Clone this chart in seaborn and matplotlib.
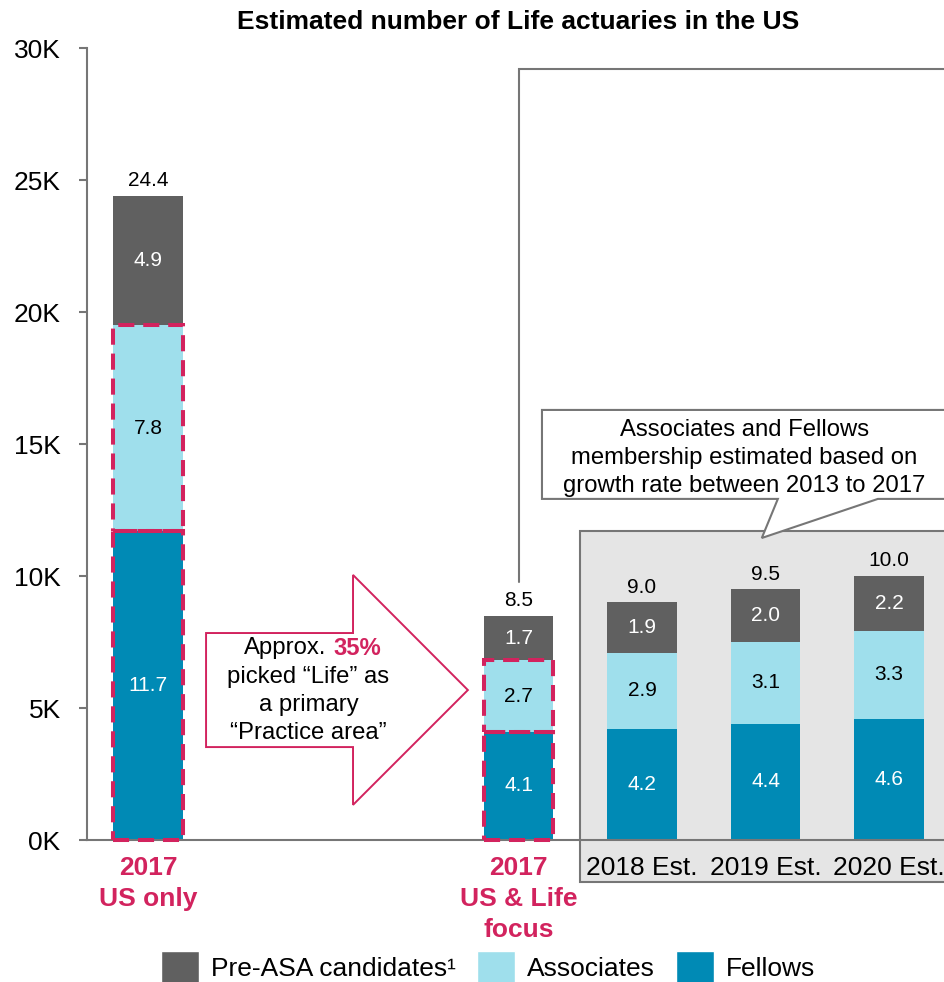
import matplotlib
matplotlib.use("Agg")
import matplotlib.pyplot as plt
import seaborn as sns
import pandas as pd
from matplotlib.patches import Rectangle, Polygon, Patch

# ---------------- data ----------------
categories = ["2017\nUS only", "2017\nUS & Life\nfocus", "2018 Est.", "2019 Est.", "2020 Est."]
fellows = [11.7, 4.1, 4.2, 4.4, 4.6]
associates = [7.8, 2.7, 2.9, 3.1, 3.3]
pre_asa = [4.9, 1.7, 1.9, 2.0, 2.2]
totals = [24.4, 8.5, 9.0, 9.5, 10.0]
highlighted = ["2017\nUS only", "2017\nUS & Life\nfocus"]
y_ticks = [0, 5, 10, 15, 20, 25, 30]
y_tick_labels = ["0K", "5K", "10K", "15K", "20K", "25K", "30K"]
series_names = ["Pre-ASA candidates\u00b9", "Associates", "Fellows"]
title = "Estimated number of Life actuaries in the US"
arrow_lines = ["picked \u201cLife\u201d as", "a primary", "\u201cPractice area\u201d"]
callout_text = "Associates and Fellows\nmembership estimated based on\ngrowth rate between 2013 to 2017"

# ---------------- style ----------------
sns.set_style("white")
plt.rcParams["font.family"] = ["Liberation Sans", "DejaVu Sans"]
for k in ["text.color", "axes.labelcolor", "xtick.color", "ytick.color"]:
    plt.rcParams[k] = "black"

C_PRE = "#606060"
C_ASSOC = "#9FDFEC"
C_FELLOW = "#008AB5"
C_RED = "#D2235E"
C_GRAY = "#767676"

df = pd.DataFrame({
    "cat": categories,
    "fellows": fellows,
    "mid": [f + a for f, a in zip(fellows, associates)],
    "total": totals,
})

order = [categories[0], "_gap1", "_gap2"] + categories[1:]
pos = {c: order.index(c) for c in categories}

fig = plt.figure(figsize=(9.44, 9.82), dpi=100)
ax = fig.add_axes([87 / 944, 142 / 982, (944 - 87) / 944, 792 / 982])

bw = 0.56
layers = {}
for key, col in [("total", C_PRE), ("mid", C_ASSOC), ("fellows", C_FELLOW)]:
    before = len(ax.patches)
    sns.barplot(data=df, x="cat", y=key, order=order, color=col, saturation=1,
                width=bw, errorbar=None, ax=ax, zorder=2, edgecolor="none")
    layers[key] = ax.patches[before:]

ax.set_xlim(-0.494, -0.494 + 857 / 123.5)
ax.set_ylim(0, 30)

# dashed highlight outlines
for c in highlighted:
    i = categories.index(c)
    for p in layers["fellows"]:
        if abs(p.get_x() + p.get_width() / 2 - pos[c]) < 0.01:
            x0, w = p.get_x(), p.get_width()
            for y0, h in [(0, fellows[i]), (fellows[i], associates[i])]:
                ax.add_patch(Rectangle((x0, y0), w, h, fill=False, edgecolor=C_RED,
                                       lw=2.9, linestyle=(0, (4, 2.2)), zorder=4,
                                       clip_on=False))

# segment + total labels
for i, c in enumerate(categories):
    x = pos[c]
    f, a, p, t = fellows[i], associates[i], pre_asa[i], totals[i]
    ax.text(x, f / 2, f"{f:.1f}", ha="center", va="center", color="white", fontsize=15, zorder=5)
    ax.text(x, f + a / 2, f"{a:.1f}", ha="center", va="center", color="black", fontsize=15, zorder=5)
    ax.text(x, (f + a + t) / 2, f"{p:.1f}", ha="center", va="center", color="white", fontsize=15, zorder=5)
    ax.annotate(f"{t:.1f}", (x, t), xytext=(0, 4), textcoords="offset points",
                ha="center", va="bottom", fontsize=15, zorder=5)

# axes styling
for s in ["top", "right"]:
    ax.spines[s].set_visible(False)
for s in ["left", "bottom"]:
    ax.spines[s].set_color(C_GRAY)
    ax.spines[s].set_linewidth(1.5)
    ax.spines[s].set_zorder(3)
ax.set_yticks(y_ticks, y_tick_labels)
ax.tick_params(axis="y", direction="out", length=6, width=1.5, color=C_GRAY,
               labelsize=19, pad=13, left=True, labelcolor="black")
ax.set_xticks([pos[c] for c in categories], categories)
ax.tick_params(axis="x", length=0, pad=11.5, labelsize=19, labelcolor="black")
for lbl, c in zip(ax.get_xticklabels(), categories):
    lbl.set_linespacing(1.37)
    if c in highlighted:
        lbl.set_color(C_RED)
        lbl.set_fontweight("bold")
ax.set_xlabel("")
ax.set_ylabel("")

# gray estimate box
ax.add_patch(Rectangle((3.5, -1.59), 5.0, 13.29, facecolor="#E5E5E5", edgecolor=C_GRAY,
                       lw=1.5, zorder=0.5, clip_on=False))

# callout
callout = Polygon([(3.19, 16.29), (8.0, 16.29), (8.0, 12.92), (5.91, 12.92), (4.97, 11.44),
                   (5.10, 12.92), (3.19, 12.92)], closed=True, facecolor="white",
                  edgecolor=C_GRAY, lw=1.5, zorder=6, clip_on=False)
ax.add_patch(callout)
ax.text(4.83, 14.47, callout_text, ha="center", va="center", fontsize=17.2,
        linespacing=1.35, zorder=7)

# connector line
ax.plot([3.0, 3.0, 8.0], [9.77, 29.2, 29.2], color=C_GRAY, lw=1.5, zorder=1,
        clip_on=False, solid_joinstyle="miter")

# big arrow
arrow = Polygon([(0.47, 7.84), (1.66, 7.84), (1.66, 10.04), (2.59, 5.68), (1.66, 1.33),
                 (1.66, 3.52), (0.47, 3.52)], closed=True, facecolor="white",
                edgecolor=C_RED, lw=1.4, zorder=3)
ax.add_patch(arrow)
ax.text(1.441, 7.27, "Approx.", ha="right", va="center", fontsize=17.2, zorder=4)
ax.text(1.498, 7.27, "35%", ha="left", va="center", fontsize=17.2, color=C_RED,
        fontweight="bold", zorder=4)
for yy, line in zip([6.17, 5.11, 4.05], arrow_lines):
    ax.text(1.30, yy, line, ha="center", va="center", fontsize=17.2, zorder=4)

# title
fig.text(518 / 944, 1 - 22 / 982, title, ha="center", va="center", fontsize=19,
         fontweight="bold", color="black")

# legend
handles = [Patch(facecolor=C_PRE), Patch(facecolor=C_ASSOC), Patch(facecolor=C_FELLOW)]
fig.legend(handles, series_names, loc="center", bbox_to_anchor=(488 / 944, 1 - 967 / 982),
           ncol=3, frameon=False, fontsize=19, handlelength=1.45, handleheight=1.5,
           handletextpad=0.45, columnspacing=0.8, borderaxespad=0, borderpad=0)

fig.savefig("out.png", dpi=100)
